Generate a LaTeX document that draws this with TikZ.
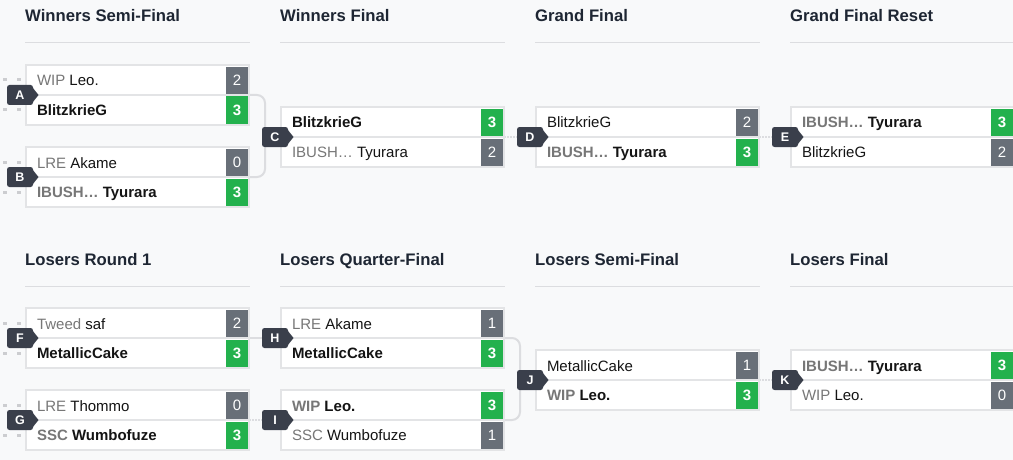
\documentclass[tikz,border=0pt]{standalone}
\usepackage{fontspec}
\setmainfont{Liberation Sans}
\usetikzlibrary{calc}
\definecolor{bgc}{HTML}{F8F9FA}
\definecolor{boxline}{HTML}{E3E4E6}
\definecolor{connc}{HTML}{DCDDE0}
\definecolor{headc}{HTML}{1E2633}
\definecolor{badgec}{HTML}{3A3F4B}
\definecolor{losec}{HTML}{686F78}
\definecolor{winc}{HTML}{23B14D}
\definecolor{prec}{HTML}{777777}
\definecolor{namec}{HTML}{141414}
\definecolor{stubc}{HTML}{CCCDD0}
\pgfdeclarelayer{bg}\pgfdeclarelayer{conn}\pgfsetlayers{bg,conn,main}
\newcommand{\pre}[1]{\textcolor{prec}{#1}}
\newcommand{\match}[3]{%
  \node[mbox] (m#1) at (#2+111.5,#3+30) {};
  \draw[sepline] (m#1.west) -- (m#1.east);
  \node[badge] (b#1) at (#2-6,#3+30) {#1};
  \fill[badgec] ($(b#1.north east)+(-2.5,0)$) -- ($(b#1.east)+(5.5,0)$) -- ($(b#1.south east)+(-2.5,0)$) -- cycle;
}
\newcommand{\teams}[7]{%
  \node[rowtext] (t#1a) at ($(m#1.north west)+(11,21)$) {#2};
  \node[cell,#4] (s#1a) at ($(m#1.north east)+(-12,15.5)$) {#3};
  \node[rowtext] (t#1b) at ($(m#1.north west)+(11,50.5)$) {#5};
  \node[cell,#7] (s#1b) at ($(m#1.north east)+(-12,45)$) {#6};
}
\begin{document}
\begin{tikzpicture}[x=1pt,y=-1pt,
  mbox/.style={draw=boxline, line width=2pt, fill=white, minimum width=223pt, minimum height=60pt, inner sep=0pt, outer sep=0pt},
  sepline/.style={draw=boxline, line width=2pt},
  badge/.style={fill=badgec, rounded corners=2.5pt, minimum width=26pt, minimum height=20pt, inner sep=0pt, outer sep=0pt, text=white, font=\fontsize{12.5}{13}\selectfont\bfseries},
  rowtext/.style={anchor=base west, inner sep=0pt, outer sep=0pt, text=namec, font=\fontsize{15}{18}\selectfont},
  cell/.style={minimum width=22pt, minimum height=27pt, inner sep=0pt, text=white, font=\fontsize{15}{18}\selectfont},
  win/.style={fill=winc, font=\fontsize{15}{18}\selectfont\bfseries},
  lose/.style={fill=losec},
  header/.style={anchor=base west, inner sep=0pt, text=headc, font=\fontsize{16.7}{20}\selectfont\bfseries},
  hline/.style={draw=connc, line width=1pt},
  conn/.style={draw=connc, line width=2pt},
  dotconn/.style={draw=connc, line width=1.3pt, dash pattern=on 1.5pt off 1.5pt},
  stub/.style={draw=stubc, line width=3pt, dash pattern=on 4pt off 10pt}
]
\useasboundingbox (0,0) rectangle (1013,460);
\begin{pgfonlayer}{bg}
  \fill[bgc] (0,0) rectangle (1013,460);
\end{pgfonlayer}

% headers
\node[header] (h1) at (25,22) {Winners Semi-Final};
\node[header] (h2) at (280,22) {Winners Final};
\node[header] (h3) at (535,22) {Grand Final};
\node[header] (h4) at (790,22) {Grand Final Reset};
\node[header] (h5) at (25,265) {Losers Round 1};
\node[header] (h6) at (280,265) {Losers Quarter-Final};
\node[header] (h7) at (535,265) {Losers Semi-Final};
\node[header] (h8) at (790,265) {Losers Final};
\foreach \h in {h1,h2,h3,h4,h5,h6,h7,h8}
  \draw[hline] ($(\h.base west)+(0,21)$) -- ++(225,0);

% matches
\match{A}{26}{65}
\match{B}{26}{147}
\match{C}{281}{107}
\match{D}{536}{107}
\match{E}{791}{107}
\match{F}{26}{308}
\match{G}{26}{390}
\match{H}{281}{308}
\match{I}{281}{390}
\match{J}{536}{350}
\match{K}{791}{350}

\teams{A}{\pre{WIP} Leo.}{2}{lose}{\bfseries BlitzkrieG}{3}{win}
\teams{B}{\pre{LRE} Akame}{0}{lose}{\bfseries\pre{IBUSH…} Tyurara}{3}{win}
\teams{C}{\bfseries BlitzkrieG}{3}{win}{\pre{IBUSH…} Tyurara}{2}{lose}
\teams{D}{BlitzkrieG}{2}{lose}{\bfseries\pre{IBUSH…} Tyurara}{3}{win}
\teams{E}{\bfseries\pre{IBUSH…} Tyurara}{3}{win}{BlitzkrieG}{2}{lose}
\teams{F}{\pre{Tweed} saf}{2}{lose}{\bfseries MetallicCake}{3}{win}
\teams{G}{\pre{LRE} Thommo}{0}{lose}{\bfseries\pre{SSC} Wumbofuze}{3}{win}
\teams{H}{\pre{LRE} Akame}{1}{lose}{\bfseries MetallicCake}{3}{win}
\teams{I}{\bfseries\pre{WIP} Leo.}{3}{win}{\pre{SSC} Wumbofuze}{1}{lose}
\teams{J}{MetallicCake}{1}{lose}{\bfseries\pre{WIP} Leo.}{3}{win}
\teams{K}{\bfseries\pre{IBUSH…} Tyurara}{3}{win}{\pre{WIP} Leo.}{0}{lose}

% stubs on the left
\foreach \m in {A,B,F,G}{
  \coordinate (s\m1) at ($(m\m.north west)+(-23,15)$);
  \coordinate (s\m2) at ($(m\m.north west)+(-23,45)$);
}

\begin{pgfonlayer}{conn}
  \foreach \m in {A,B,F,G}{
    \draw[stub] (s\m1) -- ++(18,0);
    \draw[stub] (s\m2) -- ++(18,0);
  }
  \draw[conn, rounded corners=8pt] (mA.east) -- ++(16,0) |- (mB.east);
  \draw[conn, rounded corners=8pt] (mH.east) -- ++(16,0) |- (mI.east);
  \draw[dotconn] (mC.east) -- (bD.west);
  \draw[dotconn] (mD.east) -- (bE.west);
  \draw[dotconn] (mJ.east) -- (bK.west);
  \draw[conn, line width=1.3pt] (mF.east) -- (bH.west);
  \draw[dotconn] (mG.east) -- (bI.west);
\end{pgfonlayer}
\end{tikzpicture}
\end{document}
